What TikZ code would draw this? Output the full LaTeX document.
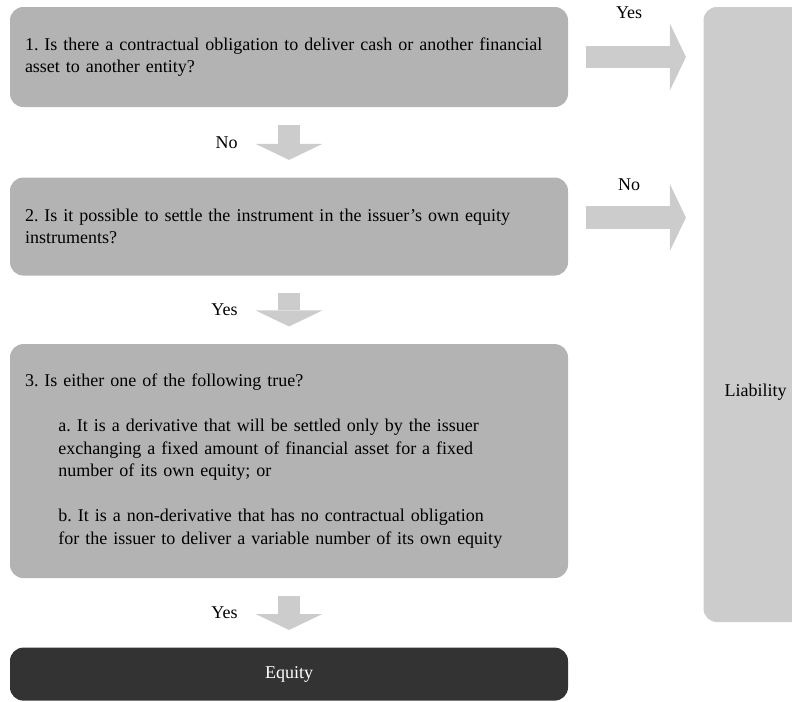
\documentclass[tikz,border=0pt]{standalone}
\usepackage{fontspec}
\setmainfont{Liberation Serif}
\usetikzlibrary{positioning, calc, arrows.meta}
\definecolor{boxgray}{HTML}{B3B3B3}
\definecolor{palegray}{HTML}{CCCCCC}
\definecolor{darkgray}{HTML}{333333}
\frenchspacing

\begin{document}
\begin{tikzpicture}[
        x=0.75pt, y=-0.75pt,
        node distance=52.5pt and 101.25pt,
        question/.style={rectangle, rounded corners=10pt, fill=boxgray, minimum width=418.5pt, text width=396pt, inner xsep=11.25pt, align=left, font=\fontsize{13.5}{16.9}\selectfont},
        result/.style={rectangle, rounded corners=10pt, fill=palegray, minimum width=96pt, minimum height=461.25pt},
        equitybox/.style={rectangle, rounded corners=10pt, fill=darkgray, text=white, minimum width=418.5pt, minimum height=39.75pt, font=\fontsize{13.5}{16.9}\selectfont},
        blockarrow/.style={draw=palegray, line width=17pt, -{Triangle[width=50pt, length=12pt, line width=0pt]}, shorten <=13pt, shorten >=13pt},
        lbl/.style={inner sep=0pt, font=\fontsize{13.5}{16.9}\selectfont}
    ]
        \useasboundingbox (0,0) rectangle (792,701);
        \clip (0,0) rectangle (792,701);

        % --- NODES ---
        \node[question, minimum height=75pt] (q1) at (289,57) {1. Is there a contractual obligation to deliver cash or another financial\\asset to another entity?};
        \node[question, minimum height=73.5pt, below=of q1] (q2) {2. Is it possible to settle the instrument in the issuer's own equity\\instruments?};
        \node[question, minimum height=175.5pt, below=51pt of q2] (q3) {3. Is either one of the following true?\\[16.9pt]
            \hspace*{25pt}a. It is a derivative that will be settled only by the issuer\\
            \hspace*{25pt}exchanging a fixed amount of financial asset for a fixed\\
            \hspace*{25pt}number of its own equity; or\\[16.9pt]
            \hspace*{25pt}b. It is a non-derivative that has no contractual obligation\\
            \hspace*{25pt}for the issuer to deliver a variable number of its own equity};
        \node[equitybox, below=51.75pt of q3] (equity) {Equity};
        \node[result, right=of q1.north east, anchor=north west] (liab) {};
        \node[lbl] (liabtext) at ([xshift=-9pt, yshift=-58pt]liab.center) {Liability};

        % --- CONNECTIONS ---
        \draw[blockarrow] (q1) -- node[lbl, left=30pt] {No} (q2);
        \draw[blockarrow] (q2) -- node[lbl, left=30pt] {Yes} (q3);
        \draw[blockarrow] (q3) -- node[lbl, left=30pt] {Yes} (equity);
        \draw[blockarrow] (q1.east) -- node[lbl, above=20.5pt, xshift=-5pt] {Yes} (q1.east -| liab.west);
        \draw[blockarrow] ([yshift=6.75pt]q2.east) -- node[lbl, above=12pt, xshift=-5pt] {No} ([yshift=6.75pt]q2.east -| liab.west);

    \end{tikzpicture}
\end{document}
